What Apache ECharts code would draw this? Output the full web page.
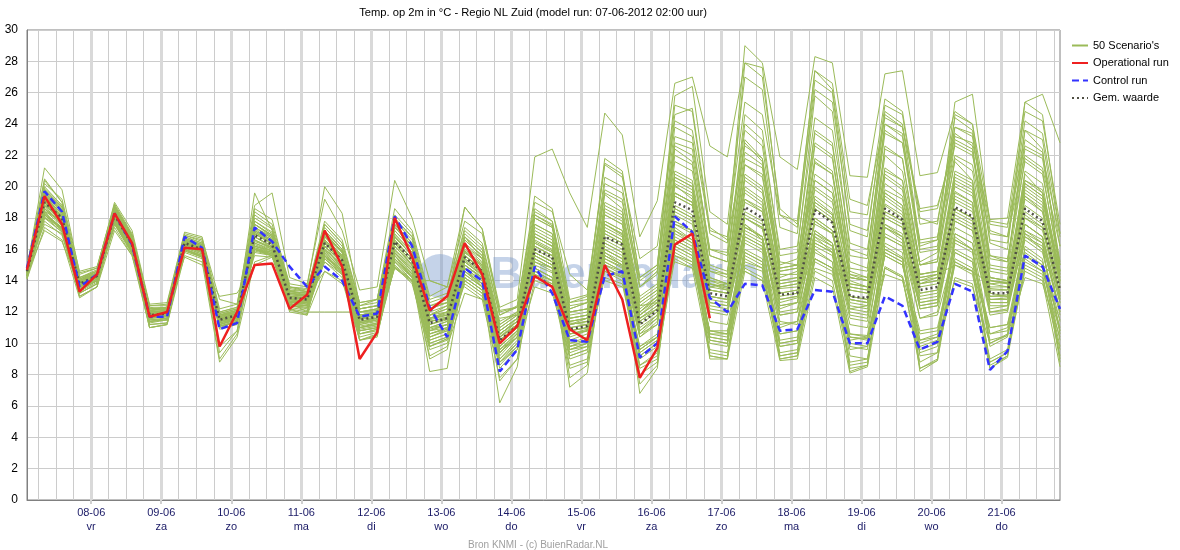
<!DOCTYPE html>
<html><head><meta charset="utf-8">
<script src="https://cdn.jsdelivr.net/npm/echarts@6/dist/echarts.min.js"></script>
<style>html,body{margin:0;padding:0;background:#fff}#c{width:1180px;height:550px}</style>
</head><body><div id="c"></div>
<script>
// time step between forecast points (hours); first point = model run 07-06-2012 02:00
const stepHours = 6;
const dayLabels = ['08-06','09-06','10-06','11-06','12-06','13-06','14-06','15-06','16-06','17-06','18-06','19-06','20-06','21-06'];
const dayNames = ['vr','za','zo','ma','di','wo','do','vr','za','zo','ma','di','wo','do'];

const operational = [14.7, 19.4,17.6,13.3,14.4, 18.3,16.4,11.7,12.0, 16.1,16.0,9.8,12.0, 15.0,15.1,12.2,13.1, 17.2,14.9,9.0,10.7, 18.0,15.5,12.1,13.0, 16.4,14.4,10.0,11.1, 14.3,13.6,10.9,10.2, 15.0,12.8,7.8,9.7, 16.3,17.0,11.6];
const control = [14.8, 19.7,18.4,13.6,14.4, 18.3,16.3,11.7,11.7, 16.8,16.1,10.9,11.3, 17.4,16.5,14.9,13.6, 14.9,14.0,11.7,11.9, 18.1,16.2,12.3,10.4, 14.8,14.0,8.2,9.6, 14.9,13.2,10.2,10.1, 14.3,14.6,9.1,10.0, 18.1,17.1,12.9,12.0, 13.8,13.7,10.8,10.9, 13.4,13.3,10.0,10.0, 13.0,12.4,9.6,10.1, 13.8,13.3,8.3,9.5, 15.6,14.9,12.2];
const meanRun = [14.6, 19.0,18.0,13.8,14.3, 18.2,16.3,11.8,11.9, 16.4,16.0,11.5,11.8, 16.9,16.3,12.9,12.8, 16.4,15.3,11.5,11.7, 16.5,15.3,11.3,11.6, 15.5,14.6,10.2,11.1, 16.0,15.5,10.9,11.1, 16.8,16.3,11.2,12.1, 19.0,18.5,13.2,13.0, 18.7,18.0,13.1,13.2, 18.5,17.7,13.0,12.9, 18.6,17.9,13.4,13.6, 18.7,18.1,13.2,13.2, 18.6,17.8,13.4];

const scenario01 = [14.5, 19.8,18.6,14.0,14.5, 18.5,16.8,12.0,12.1, 16.6,16.2,11.2,11.6, 17.8,17.0,13.4,13.0, 17.1,15.8,11.0,11.2, 17.5,16.0,11.8,12.4, 16.8,15.4,10.5,11.6, 18.2,17.5,12.0,12.2, 19.5,18.6,13.0,13.8, 22.4,21.6,15.0,14.6, 23.0,21.8,14.2,14.6, 21.5,20.8,14.0,13.6, 22.0,21.0,15.2,15.8, 21.6,20.4,14.0,13.8, 20.8,19.6,13.9];
const scenario02 = [14.3, 18.2,17.2,13.5,14.0, 17.8,15.9,11.5,11.6, 16.1,15.7,11.0,11.4, 16.0,15.8,12.4,12.3, 15.5,14.6,11.0,11.3, 15.8,14.6,10.2,10.6, 14.2,13.4,9.0,10.0, 14.6,14.0,9.8,10.2, 14.8,14.3,9.6,10.4, 15.6,15.0,10.8,10.6, 14.8,14.2,10.0,10.2, 15.2,14.6,10.4,10.3, 14.9,14.3,10.6,10.8, 15.2,14.6,11.0,11.2, 15.4,14.6,11.5];
const scenario03 = [14.8, 20.5,19.0,14.2,14.6, 18.8,16.9,12.3,12.2, 16.8,16.4,11.8,12.0, 17.3,16.6,13.2,13.1, 16.8,15.9,12.0,12.0, 16.9,15.8,11.5,11.8, 15.8,14.9,10.6,11.4, 16.5,15.9,11.3,11.2, 17.6,16.9,11.8,12.8, 20.1,19.2,13.8,13.5, 19.6,18.8,13.5,13.6, 19.2,18.3,13.6,13.4, 18.9,18.2,13.8,14.2, 19.7,19.0,13.5,13.4, 19.4,18.4,14.0];
const scenario04 = [14.6, 19.2,18.3,13.9,14.4, 18.6,16.6,12.1,12.3, 16.9,16.5,12.0,12.3, 18.4,17.6,13.8,13.6, 20.0,18.3,12.4,12.6, 17.8,16.6,12.6,13.0, 17.4,16.4,11.8,12.3, 19.4,18.6,12.8,13.1, 21.8,21.0,14.2,15.0, 25.2,24.8,17.0,16.4, 29.0,27.9,21.9,21.1, 28.3,27.9,20.7,20.6, 27.2,27.4,20.7,20.9, 24.8,24.0,17.9,18.0, 25.4,25.9,22.8];
const scenario05 = [14.2, 18.6,17.6,13.2,13.8, 17.9,16.0,11.2,11.3, 16.0,15.5,10.9,11.2, 16.2,15.9,12.2,12.0, 15.8,14.8,10.6,10.8, 15.2,14.2,9.8,10.3, 14.8,13.8,8.8,9.6, 15.2,14.8,9.6,9.8, 16.0,15.4,9.2,10.0, 17.2,16.6,10.4,10.2, 16.8,16.2,10.2,10.4, 17.0,16.2,10.0,9.8, 16.2,15.5,9.6,10.0, 16.4,15.8,10.2,10.5, 17.0,16.0,10.8];
const scenario06 = [14.7, 18.4,17.9,13.7,14.2, 18.0,16.2,11.9,12.0, 16.5,16.1,11.6,11.9, 17.1,16.4,13.0,12.9, 16.2,15.2,11.8,12.0, 16.8,15.6,11.0,11.2, 15.0,14.2,10.0,11.0, 15.6,15.0,10.6,10.9, 16.4,15.8,11.6,12.4, 18.6,18.0,13.0,12.8, 18.0,17.3,12.8,13.0, 18.8,18.0,13.4,13.2, 19.2,18.4,13.8,14.0, 18.2,17.6,12.8,12.9, 18.0,17.2,13.0];
const scenario07 = [14.4, 19.6,18.4,14.1,14.6, 18.3,16.4,11.7,11.8, 16.3,15.9,11.4,11.7, 18.6,17.9,13.6,13.4, 17.8,16.6,12.6,12.8, 18.2,17.0,12.8,13.2, 17.2,16.2,11.8,12.4, 18.6,17.8,12.4,12.6, 20.6,20.0,13.6,14.6, 23.8,23.2,15.6,15.2, 24.6,23.6,15.6,15.8, 25.8,24.8,16.0,15.6, 24.0,23.2,16.2,16.6, 23.4,22.6,15.0,14.8, 23.6,22.4,14.6];
const scenario08 = [14.9, 17.6,17.0,13.4,14.0, 17.6,15.7,11.4,11.5, 16.0,15.6,11.2,11.5, 15.8,15.6,12.6,12.5, 15.2,14.4,10.8,11.0, 14.8,13.9,10.0,10.4, 13.8,13.0,8.6,9.8, 13.6,13.2,9.2,9.6, 14.2,13.8,8.6,9.4, 15.8,15.2,10.0,9.8, 17.6,16.8,11.4,11.2, 16.2,15.6,10.6,10.5, 17.4,16.8,11.6,12.0, 17.8,17.2,12.0,12.1, 17.2,16.6,12.0];
const scenario09 = [14.6, 19.0,17.8,13.8,14.3, 18.1,16.3,11.8,11.9, 16.4,16.0,11.6,11.9, 16.6,16.0,12.8,12.7, 16.0,15.0,11.3,11.6, 16.2,15.0,10.8,11.0, 15.3,14.5,9.8,10.8, 17.0,16.4,11.6,11.8, 18.2,17.6,12.2,13.0, 20.8,20.2,14.2,13.8, 20.4,19.6,14.0,14.2, 18.6,17.8,13.0,12.8, 20.2,19.4,14.4,14.6, 20.0,19.4,14.0,13.9, 19.8,19.0,14.2];
const scenario10 = [14.5, 18.8,18.2,14.0,14.4, 18.0,16.1,11.6,11.8, 16.2,15.8,11.9,12.2, 15.6,15.5,12.6,12.0, 12.0,12.0,12.0,12.1, 16.4,15.0,10.8,11.2, 15.2,14.3,10.4,11.2, 16.2,15.6,11.2,11.4, 17.0,16.4,11.4,12.2, 19.4,18.8,13.4,13.2, 18.4,17.8,12.6,12.9, 17.8,17.0,12.4,12.2, 18.0,17.4,13.0,13.2, 18.4,17.8,13.0,13.1, 18.0,17.4,13.2];
const scenario11 = [14.1, 17.4,16.6,12.9,13.6, 17.2,15.6,11.0,11.2, 15.6,15.2,8.8,10.4, 15.2,15.6,12.2,11.8, 14.6,14.0,10.2,10.6, 14.9,14.0,9.2,9.8, 13.2,12.8,7.8,9.0, 14.0,13.6,8.4,8.8, 14.8,14.2,8.4,9.0, 16.2,15.6,9.6,9.4, 15.0,14.6,9.2,9.4, 14.6,14.0,8.6,8.8, 15.8,15.2,9.4,9.8, 15.0,14.4,9.0,9.6, 15.6,14.8,9.8];
const scenario12 = [14.8, 20.0,18.8,14.4,14.8, 18.9,17.0,12.4,12.4, 16.9,16.6,12.0,12.3, 17.6,16.8,13.3,13.2, 16.6,15.6,11.6,11.8, 16.6,15.4,11.4,11.6, 15.6,14.7,10.4,11.2, 15.4,14.8,10.2,10.6, 15.6,15.0,10.4,11.2, 17.6,17.2,12.4,12.2, 17.2,16.6,12.0,12.2, 18.0,17.2,12.8,12.6, 17.6,16.8,12.6,12.8, 18.0,17.4,12.6,12.6, 17.6,16.8,12.6];
const scenario13 = [14.6, 19.4,18.2,13.9,14.4, 18.4,16.5,12.0,12.1, 16.7,16.3,11.7,12.0, 19.6,17.2,13.6,13.3, 17.6,16.4,12.4,12.8, 18.6,17.2,13.0,13.6, 18.7,17.3,12.3,12.8, 21.9,22.4,19.6,17.4, 24.7,23.3,16.8,19.1, 26.6,27.0,22.6,21.9, 27.9,27.0,18.6,17.6, 27.4,26.2,18.4,18.2, 25.6,24.8,18.0,17.6, 24.4,23.6,17.2,16.8, 24.2,23.4,17.0];
const scenario14 = [14.4, 18.0,17.4,13.6,14.1, 18.0,16.0,11.6,11.8, 16.2,15.8,11.3,11.6, 16.4,15.9,12.6,12.6, 16.8,15.6,11.6,11.6, 16.0,14.9,10.9,11.2, 15.0,14.1,9.4,10.6, 15.8,15.2,10.8,11.0, 16.2,15.6,10.8,11.6, 18.2,17.6,12.6,12.4, 17.4,16.8,12.2,12.6, 17.2,16.4,12.2,12.4, 17.0,16.4,12.4,12.6, 18.6,18.0,13.2,13.0, 18.2,17.4,12.8];
const scenario15 = [14.2, 19.2,18.0,13.0,13.6, 18.4,16.2,11.0,11.2, 16.6,16.0,9.4,10.8, 16.8,16.1,12.0,11.8, 16.2,14.8,10.2,10.4, 15.6,14.2,8.2,8.4, 14.8,13.6,6.2,8.5, 15.6,15.0,7.2,8.1, 15.8,15.0,6.8,8.4, 17.4,16.6,9.2,9.0, 17.6,16.6,9.0,9.2, 16.8,15.8,8.2,8.6, 17.4,16.6,8.4,9.0, 16.8,16.0,8.6,9.2, 17.2,16.4,9.0];
const scenario16 = [14.7, 19.6,18.5,14.0,14.5, 18.7,16.7,12.2,12.3, 16.7,16.3,11.8,12.1, 17.2,16.5,13.1,13.0, 16.6,15.5,11.7,11.9, 17.2,16.0,11.6,12.0, 16.2,15.2,10.8,11.6, 16.8,16.2,11.6,11.8, 17.8,17.2,12.0,13.0, 20.2,19.6,14.0,13.8, 19.8,19.0,13.8,14.0, 20.4,19.6,14.2,14.0, 19.6,18.8,14.0,14.4, 20.8,20.2,14.2,14.0, 20.2,19.4,14.4];
const scenario17 = [14.5, 18.6,17.6,13.6,14.2, 17.9,16.0,11.6,11.7, 16.2,15.8,11.4,11.6, 16.4,16.0,12.7,12.6, 16.0,15.0,11.2,11.4, 15.8,14.6,10.6,10.9, 14.6,13.8,9.6,10.4, 14.8,14.2,9.8,10.0, 15.0,14.4,9.0,9.8, 16.4,15.8,10.2,10.0, 15.4,14.8,9.4,9.6, 15.8,15.2,9.2,9.0, 14.8,14.2,8.8,9.4, 14.2,13.8,8.4,9.1, 14.8,14.2,9.6];
const scenario18 = [14.6, 19.0,18.1,13.9,14.4, 18.2,16.3,11.9,12.0, 16.5,16.1,11.6,11.9, 17.4,16.8,13.2,13.0, 17.0,15.8,11.8,12.0, 17.4,16.2,11.8,12.2, 16.6,15.6,10.8,11.6, 17.6,17.0,11.8,12.0, 19.0,18.4,12.6,13.4, 22.0,21.4,14.6,14.4, 22.8,21.6,14.8,15.0, 23.6,22.8,15.2,14.8, 23.4,22.8,15.8,16.0, 23.8,23.4,15.6,15.2, 23.0,22.2,15.0];
const scenario19 = [14.3, 18.4,17.2,13.4,14.0, 17.7,15.8,11.4,11.6, 16.0,15.6,11.1,11.4, 16.0,15.7,12.5,12.4, 15.6,14.6,10.9,11.1, 15.6,14.4,10.4,10.8, 14.6,13.8,9.2,10.4, 15.0,14.5,10.0,10.4, 15.4,14.9,9.8,10.6, 17.0,16.4,11.4,11.2, 16.6,16.0,11.0,11.4, 16.4,15.8,11.2,11.0, 16.8,16.2,11.6,11.8, 16.0,15.4,11.0,11.2, 16.6,15.8,11.4];
const scenario20 = [14.9, 20.2,19.2,14.6,14.9, 18.8,16.9,12.4,12.5, 17.0,16.7,12.8,12.5, 18.8,19.6,14.2,13.8, 19.2,17.2,13.4,13.6, 20.4,18.0,14.0,13.6, 17.8,17.0,12.0,12.3, 19.0,18.4,14.4,13.4, 21.4,20.6,15.4,16.2, 24.2,23.6,17.2,16.8, 25.4,24.6,18.2,17.4, 26.2,25.4,17.6,17.2, 24.6,23.8,18.4,18.6, 23.2,22.8,17.8,17.6, 22.6,22.0,16.8];
const scenario21 = [14.4, 18.2,17.4,13.6,14.1, 18.1,16.1,11.7,11.8, 16.3,15.9,11.4,11.7, 16.5,16.1,12.8,12.6, 16.4,15.2,11.4,11.6, 16.2,15.0,11.0,11.4, 15.2,14.4,10.0,11.0, 15.6,15.0,10.4,10.8, 16.6,16.0,10.8,11.8, 18.8,18.2,12.8,12.6, 18.2,17.6,12.4,12.6, 19.0,18.2,12.8,12.6, 19.6,18.8,13.2,13.4, 19.4,18.8,12.8,12.8, 19.2,18.4,13.0];
const scenario22 = [14.6, 18.8,17.9,13.7,14.2, 18.0,16.1,11.6,11.7, 16.2,15.8,11.3,11.6, 16.3,15.9,12.7,12.5, 15.9,14.9,11.1,11.3, 15.9,14.7,10.4,10.8, 15.0,14.2,9.6,10.7, 15.4,14.8,10.0,10.2, 15.8,15.2,9.4,10.2, 17.8,17.2,10.6,10.4, 16.8,16.2,9.8,10.0, 16.6,16.0,9.6,9.8, 16.0,15.4,9.8,10.2, 16.6,16.0,9.8,10.4, 15.8,15.0,10.2];
const scenario23 = [14.8, 19.8,18.7,14.2,14.6, 18.6,16.7,12.1,12.2, 16.6,16.2,11.7,12.0, 17.6,16.9,13.3,13.2, 16.9,15.8,12.0,12.2, 17.0,15.8,11.8,12.0, 16.0,15.1,10.8,11.6, 17.2,16.6,11.4,11.6, 18.4,17.8,12.4,13.2, 21.0,20.4,14.6,14.2, 21.4,20.6,14.6,14.8, 20.8,20.0,14.4,14.0, 21.2,20.4,15.0,15.2, 21.8,21.0,14.6,14.4, 20.4,19.8,14.6];
const scenario24 = [14.3, 18.5,17.5,13.5,14.0, 18.2,16.2,11.8,11.9, 16.4,16.0,11.5,11.8, 16.8,16.2,12.8,12.7, 16.2,15.1,11.3,11.5, 16.4,15.2,11.2,11.6, 15.4,14.6,10.2,11.0, 15.8,15.2,10.8,11.0, 16.8,16.2,11.2,12.0, 18.4,17.8,13.0,12.8, 18.0,17.4,13.0,13.2, 17.6,17.0,12.8,12.6, 18.2,17.6,13.2,13.4, 18.6,18.0,13.0,13.0, 18.4,17.6,13.2];
const scenario25 = [14.6, 19.3,18.1,13.8,14.4, 18.4,16.4,11.8,11.9, 16.4,16.0,11.5,11.8, 17.0,16.4,12.9,12.8, 16.6,15.4,11.6,11.8, 17.8,16.8,12.4,12.6, 18.7,17.3,12.1,12.3, 17.4,16.8,11.2,11.4, 18.6,18.0,12.6,13.4, 20.6,20.0,13.8,13.4, 21.4,20.8,14.4,14.4, 22.6,21.8,14.6,14.2, 21.0,20.4,14.2,14.4, 20.4,19.8,13.8,13.6, 21.0,20.2,14.0];
const scenario26 = [14.5, 18.9,17.8,13.8,14.2, 18.1,16.2,11.8,11.9, 16.4,16.0,11.6,11.9, 16.2,15.9,12.7,12.6, 15.8,14.8,11.2,11.5, 15.6,14.5,10.6,11.0, 14.8,14.0,9.6,10.6, 16.0,15.4,10.6,10.8, 16.0,15.4,10.6,11.2, 17.6,17.0,12.2,12.0, 17.0,16.4,11.8,12.0, 16.8,16.2,12.0,11.8, 17.4,16.8,12.4,12.6, 17.0,16.4,12.2,12.4, 16.8,16.2,12.2];
const scenario27 = [14.7, 19.4,18.4,14.0,14.5, 18.5,16.6,12.1,12.2, 16.6,16.2,11.8,12.1, 17.4,16.7,13.2,13.1, 17.2,16.0,12.2,12.4, 17.6,16.4,12.0,12.4, 16.8,15.8,11.0,11.8, 18.0,17.4,12.2,12.6, 20.2,19.6,14.0,14.8, 25.8,26.4,18.4,17.6, 27.0,26.2,17.4,17.0, 26.8,26.0,17.2,16.8, 25.2,24.6,17.6,17.8, 23.8,23.2,16.6,16.4, 23.6,23.0,16.2];
const scenario28 = [14.2, 17.8,16.9,13.2,13.8, 17.6,15.8,11.3,11.5, 15.9,15.5,11.1,11.3, 16.0,15.6,12.4,12.2, 15.4,14.4,10.6,10.9, 15.0,14.0,9.8,10.2, 14.0,13.2,8.8,9.8, 14.4,13.8,9.0,9.4, 14.6,14.0,8.6,9.2, 15.4,14.8,9.2,9.0, 14.6,14.0,8.9,9.0, 14.2,13.6,8.1,8.5, 14.8,14.2,8.4,8.9, 15.2,14.6,8.8,9.4, 14.6,14.0,8.5];
const scenario29 = [14.6, 19.2,18.0,13.8,14.3, 18.3,16.4,11.8,12.0, 16.5,16.1,11.5,11.8, 17.0,16.4,12.9,12.8, 16.4,15.3,11.5,11.7, 16.6,15.4,11.2,11.6, 15.6,14.8,10.2,11.2, 16.2,15.6,11.0,11.2, 17.0,16.4,11.4,12.2, 19.4,18.8,13.4,13.2, 19.0,18.4,13.2,13.4, 18.6,17.8,13.0,12.8, 18.8,18.0,13.6,13.8, 19.2,18.6,13.4,13.4, 18.8,18.0,13.6];
const scenario30 = [14.8, 21.2,19.8,14.5,14.8, 19.0,17.2,12.5,12.6, 17.1,16.8,12.2,12.5, 18.2,17.4,13.6,13.5, 17.2,16.0,12.0,12.2, 17.6,16.2,11.6,12.0, 16.4,15.4,10.4,11.4, 17.0,16.4,11.2,11.6, 18.2,17.6,12.0,13.0, 21.6,21.0,14.8,14.4, 22.2,21.4,14.6,14.8, 21.8,21.0,14.2,14.0, 22.4,21.8,15.0,15.2, 22.8,22.2,14.8,14.6, 21.8,21.0,14.6];
const scenario31 = [14.4, 17.2,16.5,13.6,14.0, 17.4,15.6,11.9,12.0, 15.5,15.0,13.0,13.2, 15.0,15.5,13.2,13.0, 14.6,13.8,12.2,12.4, 14.8,14.0,14.0,13.6, 13.6,12.8,11.6,11.8, 14.2,13.8,12.0,12.2, 14.0,13.6,12.4,12.6, 15.2,14.8,13.6,13.8, 14.6,14.0,13.2,13.4, 15.4,14.8,13.8,13.6, 16.0,15.4,14.2,14.4, 15.0,14.6,13.8,13.9, 15.6,15.0,14.0];
const scenario32 = [14.5, 19.0,17.9,13.7,14.3, 18.2,16.3,11.9,12.0, 16.4,16.0,11.5,11.8, 16.8,16.2,12.8,12.7, 16.4,15.4,11.4,11.6, 16.4,15.2,11.2,11.5, 15.6,14.6,10.2,11.0, 16.4,15.8,10.8,11.0, 17.2,16.6,11.0,11.8, 19.6,19.0,13.0,12.8, 19.2,18.6,12.8,13.0, 19.4,18.6,12.6,12.4, 18.4,17.8,12.8,13.0, 19.6,19.0,12.6,12.6, 19.6,18.8,12.8];
const scenario33 = [14.6, 19.1,18.0,13.8,14.3, 18.2,16.3,11.8,11.9, 16.4,16.0,11.4,11.7, 17.0,16.3,12.9,12.9, 16.5,15.4,11.6,11.8, 16.5,15.4,11.4,11.6, 15.4,14.6,10.4,11.2, 16.2,15.6,11.0,11.2, 17.4,16.8,11.6,12.4, 19.6,19.0,13.4,13.2, 20.6,19.8,13.8,14.0, 21.6,20.8,14.2,14.0, 22.6,21.8,15.0,15.4, 24.6,24.0,16.4,16.0, 25.4,24.6,17.0];
const scenario34 = [14.3, 18.3,17.3,13.4,14.0, 17.8,15.9,11.5,11.6, 16.0,15.6,11.2,11.5, 16.2,15.8,12.5,12.4, 15.7,14.7,11.0,11.2, 15.4,14.3,10.2,10.6, 14.4,13.6,9.4,10.4, 14.4,14.0,9.6,10.0, 14.6,14.2,9.8,10.4, 15.6,15.2,10.8,10.8, 15.2,14.8,10.6,10.8, 14.8,14.4,10.2,10.4, 14.4,14.0,10.0,10.4, 14.0,13.6,10.0,10.5, 14.2,13.8,10.4];
const scenario35 = [14.6, 19.0,18.0,13.8,14.4, 18.3,16.4,11.9,12.0, 16.5,16.1,11.6,11.9, 17.2,16.5,13.0,12.9, 16.6,15.5,11.6,11.8, 16.8,15.6,11.4,11.7, 15.8,14.9,10.4,11.2, 16.4,15.8,11.2,11.4, 17.2,16.6,11.6,12.2, 19.6,19.0,13.6,13.4, 19.2,18.4,13.6,13.8, 19.0,18.2,13.4,13.2, 19.4,18.6,13.8,14.0, 19.0,18.4,13.6,13.6, 19.4,18.6,13.8];
const scenario36 = [14.9, 20.4,19.0,14.2,14.7, 18.7,16.8,12.2,12.3, 16.8,16.4,11.9,12.2, 17.8,17.1,13.4,13.3, 17.4,16.2,12.2,12.4, 17.4,16.2,12.2,12.6, 16.6,15.6,11.2,11.9, 17.6,17.0,12.0,12.2, 18.8,18.2,12.8,13.6, 22.6,22.0,15.6,15.2, 23.6,22.6,15.0,15.4, 22.8,22.0,14.8,14.6, 24.0,23.4,16.0,16.2, 23.0,22.4,15.4,15.2, 22.4,21.8,15.2];
const scenario37 = [14.2, 18.1,17.1,13.2,13.8, 17.7,15.8,11.2,11.3, 15.8,15.4,9.8,10.8, 15.9,15.6,12.3,12.1, 15.2,14.2,10.4,10.7, 14.9,13.8,9.6,10.0, 14.0,13.2,8.4,9.6, 14.6,14.0,8.6,9.0, 15.2,14.6,8.0,8.8, 16.0,15.4,9.4,9.2, 15.6,15.0,9.0,9.2, 15.4,14.8,8.8,9.0, 15.8,15.2,9.2,9.4, 15.4,14.8,8.8,9.4, 15.0,14.4,9.2];
const scenario38 = [14.7, 19.5,18.4,14.0,14.5, 18.6,16.6,12.0,12.1, 16.6,16.2,11.7,12.0, 17.4,16.7,13.1,13.0, 16.9,15.8,11.8,12.0, 16.8,15.6,11.6,11.9, 15.9,15.0,10.6,11.4, 16.8,16.2,11.4,11.6, 17.6,17.0,11.8,12.6, 20.4,19.8,14.0,13.6, 20.0,19.2,13.6,13.8, 19.8,19.0,13.8,13.6, 20.6,19.8,14.4,14.6, 20.2,19.6,14.2,14.0, 20.0,19.2,14.2];
const scenario39 = [14.4, 18.7,17.7,13.6,14.1, 18.0,16.1,11.7,11.8, 16.2,15.8,11.3,11.6, 16.1,15.8,12.6,12.5, 15.4,14.5,10.8,11.0, 15.3,14.2,10.0,10.4, 14.2,13.4,9.0,10.2, 14.8,14.2,9.4,9.8, 15.0,14.6,9.4,10.2, 16.8,16.2,10.6,10.6, 17.4,16.8,11.2,11.4, 18.0,17.2,11.8,11.6, 18.4,17.8,12.2,12.4, 18.6,18.0,12.0,12.2, 17.6,16.8,12.0];
const scenario40 = [14.6, 19.7,18.6,14.1,14.5, 18.6,16.7,12.1,12.2, 16.7,16.3,11.8,12.1, 18.0,17.3,13.5,13.3, 17.6,16.4,12.6,12.8, 18.0,16.8,12.4,12.8, 17.0,16.0,11.4,12.0, 18.2,17.6,12.6,12.8, 19.8,19.2,13.6,14.4, 23.2,22.8,16.0,15.6, 24.0,23.0,16.0,16.2, 24.4,23.6,16.4,16.0, 23.6,22.8,16.6,16.8, 22.0,21.4,15.6,15.4, 21.6,20.8,15.0];
const scenario41 = [14.1, 18.4,17.2,13.0,13.6, 17.8,15.8,11.0,11.2, 16.0,15.5,9.0,10.6, 16.0,15.6,12.1,11.9, 15.6,14.5,10.2,10.5, 15.4,14.2,9.0,9.6, 14.6,13.6,7.6,9.0, 15.4,14.8,7.8,8.6, 15.6,15.0,7.4,8.6, 17.2,16.4,9.0,9.0, 16.4,15.8,9.2,9.4, 16.0,15.2,8.4,8.6, 16.4,15.8,8.2,8.9, 15.8,15.2,8.4,9.2, 16.2,15.4,8.8];
const scenario42 = [14.5, 18.6,17.7,13.7,14.2, 18.1,16.2,11.8,11.9, 16.3,15.9,11.5,11.8, 16.6,16.1,12.8,12.7, 16.2,15.2,11.4,11.6, 16.2,15.0,11.0,11.4, 15.2,14.4,9.8,10.8, 15.8,15.2,10.6,10.8, 16.4,15.8,10.6,11.6, 18.6,18.0,12.6,12.4, 18.0,17.4,12.4,12.6, 17.8,17.0,12.2,12.0, 18.0,17.4,12.6,12.8, 17.8,17.2,12.4,12.4, 17.6,16.8,12.6];
const scenario43 = [14.7, 19.9,18.8,14.1,14.6, 18.7,16.8,12.2,12.3, 16.7,16.3,11.7,12.0, 17.6,16.9,13.3,13.2, 17.0,15.9,12.0,12.2, 17.2,16.0,11.8,12.2, 16.2,15.4,11.0,11.8, 18.4,17.8,12.6,13.0, 21.5,20.8,14.2,15.0, 24.6,25.0,17.4,16.6, 22.6,21.8,15.2,15.0, 20.4,19.6,14.4,14.2, 19.8,19.2,14.0,14.2, 20.6,20.0,14.0,13.8, 20.2,19.4,14.0];
const scenario44 = [14.3, 18.2,17.3,13.3,13.9, 17.9,15.9,11.4,11.5, 16.0,15.6,11.1,11.4, 16.1,15.7,12.4,12.3, 15.6,14.6,10.8,11.0, 15.7,14.6,10.6,11.0, 14.8,14.0,9.4,10.4, 15.2,14.6,9.8,10.2, 15.6,15.0,9.6,10.4, 16.6,16.0,10.4,10.2, 15.8,15.2,10.0,10.2, 17.2,16.4,10.6,10.4, 15.6,15.0,10.2,10.6, 17.0,16.4,10.6,11.0, 16.0,15.2,11.0];
const scenario45 = [14.6, 19.3,18.3,13.9,14.4, 18.4,16.5,12.0,12.1, 16.6,16.2,11.7,12.0, 17.1,16.5,13.0,12.9, 16.6,15.6,11.7,11.9, 16.8,15.6,11.6,11.8, 15.9,15.0,10.6,11.4, 16.6,16.0,11.4,11.6, 17.6,17.0,11.8,12.6, 20.0,19.4,13.8,13.6, 20.8,20.0,14.0,14.2, 20.0,19.2,13.6,13.4, 20.8,20.0,14.4,14.6, 21.0,20.4,14.2,14.0, 20.4,19.6,14.4];
const scenario46 = [14.4, 18.0,17.1,13.5,14.0, 17.7,15.9,11.6,11.7, 15.9,15.5,11.2,11.5, 16.0,15.7,12.5,12.4, 15.6,14.7,11.0,11.2, 15.4,14.4,10.4,10.9, 14.4,13.6,9.4,10.4, 14.8,14.2,9.6,10.0, 15.2,14.6,9.6,10.4, 16.2,15.6,10.8,10.6, 15.8,15.2,10.6,10.8, 15.4,14.8,10.4,10.2, 15.6,15.0,10.8,11.0, 15.8,15.2,10.6,10.8, 15.2,14.6,10.8];
const scenario47 = [14.7, 19.6,18.5,14.0,14.5, 18.5,16.6,12.1,12.2, 16.6,16.2,11.8,12.1, 17.6,16.9,13.3,13.2, 17.2,16.0,12.2,12.4, 17.6,16.4,12.2,12.6, 16.8,15.8,11.2,12.0, 18.0,17.4,12.2,12.6, 19.6,19.0,13.6,14.6, 22.8,22.4,16.0,15.8, 27.9,27.6,18.2,17.8, 27.4,26.6,19.2,18.8, 24.4,23.8,18.6,18.8, 22.6,22.0,17.0,16.8, 22.0,21.2,16.2];
const scenario48 = [14.5, 18.8,17.8,13.7,14.2, 18.1,16.2,11.7,11.8, 16.3,15.9,11.4,11.7, 16.6,16.1,12.8,12.6, 16.0,15.0,11.3,11.5, 16.0,14.8,10.8,11.2, 15.0,14.2,9.8,10.8, 15.8,15.2,10.6,10.8, 16.0,15.4,10.4,11.4, 17.8,17.2,12.0,11.8, 17.4,16.8,11.8,12.0, 17.0,16.4,11.6,11.4, 17.6,17.0,12.2,12.4, 17.4,16.8,11.8,12.0, 17.0,16.4,11.8];
const scenario49 = [14.6, 19.1,18.1,13.8,14.3, 18.3,16.4,11.9,12.0, 16.5,16.1,11.6,11.9, 17.2,16.6,13.0,12.9, 16.8,15.6,11.8,12.0, 16.8,15.6,11.6,11.8, 15.8,15.0,10.6,11.4, 16.8,16.2,11.6,11.8, 17.8,17.2,12.0,12.8, 20.6,20.0,14.2,13.8, 21.8,21.2,14.8,15.0, 23.4,22.6,15.6,15.4, 24.8,24.0,16.4,16.6, 25.4,25.9,17.6,17.4, 24.8,24.2,17.6];
const scenario50 = [14.3, 18.3,17.4,13.4,14.0, 17.8,15.9,11.4,11.5, 16.1,15.7,11.1,11.4, 16.0,15.6,12.5,12.4, 15.4,14.4,10.6,10.9, 15.2,14.0,9.8,10.3, 14.2,13.4,8.8,10.0, 14.6,14.0,9.2,9.6, 15.4,14.8,9.2,10.0, 16.6,16.0,10.2,10.0, 16.0,15.4,9.8,10.0, 16.4,15.8,9.8,9.6, 16.8,16.2,10.2,10.4, 16.6,16.0,10.0,10.6, 16.8,16.0,10.6];

const scenarios = [scenario01,scenario02,scenario03,scenario04,scenario05,scenario06,scenario07,scenario08,scenario09,scenario10,
  scenario11,scenario12,scenario13,scenario14,scenario15,scenario16,scenario17,scenario18,scenario19,scenario20,
  scenario21,scenario22,scenario23,scenario24,scenario25,scenario26,scenario27,scenario28,scenario29,scenario30,
  scenario31,scenario32,scenario33,scenario34,scenario35,scenario36,scenario37,scenario38,scenario39,scenario40,
  scenario41,scenario42,scenario43,scenario44,scenario45,scenario46,scenario47,scenario48,scenario49,scenario50];

const lastHour = (control.length - 1) * stepHours;
const hourCats = [];
for (let h = 0; h <= lastHour; h++) hourCats.push(String(h));
const isDay = i => i % 24 === 22;           // midnight lines (first point is 02:00)
const isSix = i => i % 6 === 4 && !isDay(i); // 06:00, 12:00, 18:00 lines
const toPairs = arr => arr.map((v, i) => [i * stepHours, v]);
const FONT = 'Liberation Sans, Arial, sans-serif';

const series = [];
scenarios.forEach(s => series.push({
  name: "50 Scenario's", type: 'line', xAxisIndex: 2, data: toPairs(s), symbol: 'none', silent: true,
  lineStyle: { color: '#9bbb59', width: 1 }, itemStyle: { color: '#9bbb59' }, z: 2
}));
series.push({ name: 'Gem. waarde', type: 'line', xAxisIndex: 2, data: toPairs(meanRun), symbol: 'none',
  lineStyle: { color: '#4f4f44', width: 2.5, type: [2, 3] }, itemStyle: { color: '#4f4f44' }, z: 3 });
series.push({ name: 'Control run', type: 'line', xAxisIndex: 2, data: toPairs(control), symbol: 'none',
  lineStyle: { color: '#3333ff', width: 2.5, type: [7, 4] }, itemStyle: { color: '#3333ff' }, z: 4 });
series.push({ name: 'Operational run', type: 'line', xAxisIndex: 2, data: toPairs(operational), symbol: 'none',
  lineStyle: { color: '#ee2020', width: 2.5 }, itemStyle: { color: '#ee2020' }, z: 5 });

const chart = echarts.init(document.getElementById('c'));
chart.setOption({
  animation: false,
  backgroundColor: '#ffffff',
  grid: { left: 27, right: 120, top: 30, bottom: 50, show: true, borderColor: '#808080', borderWidth: 1 },
  xAxis: [
    { type: 'category', data: hourCats, boundaryGap: false, position: 'bottom',
      axisLine: { show: true, lineStyle: { color: '#808080' } },
      axisTick: { show: true, interval: isDay, length: 4, lineStyle: { color: '#d0d0d0', width: 2 } },
      axisLabel: { interval: isDay, color: '#1a1a66', fontSize: 11, lineHeight: 14, margin: 6, fontFamily: FONT,
        formatter: (v) => { const k = (Number(v) - 22) / 24; return dayLabels[k] + '\n' + dayNames[k]; } },
      splitLine: { show: true, interval: isDay, lineStyle: { color: '#d9d9d9', width: 3 } } },
    { type: 'category', data: hourCats, boundaryGap: false, position: 'bottom',
      axisLine: { show: false }, axisTick: { show: false }, axisLabel: { show: false },
      splitLine: { show: true, interval: isSix, lineStyle: { color: '#cccccc', width: 1 } } },
    { type: 'value', min: 0, max: lastHour, show: false, splitLine: { show: false } }
  ],
  yAxis: { type: 'value', min: 0, max: 30, interval: 2,
    axisLine: { show: true, lineStyle: { color: '#808080' } }, axisTick: { show: false },
    axisLabel: { color: '#000', fontSize: 12, margin: 9, fontFamily: FONT },
    splitLine: { show: true, lineStyle: { color: '#cccccc', width: 1 } } },
  legend: { orient: 'vertical', left: 1066, top: 35, itemWidth: 16, itemHeight: 10, itemGap: 6.5,
    itemStyle: { opacity: 0 },
    textStyle: { fontSize: 11, color: '#000', fontFamily: FONT },
    data: ["50 Scenario's", 'Operational run', 'Control run', 'Gem. waarde'] },
  graphic: [
    { type: 'text', x: 533, y: 13, style: { text: 'Temp. op 2m in °C - Regio NL Zuid (model run: 07-06-2012 02:00 uur)',
      fill: '#000', font: '11.2px ' + FONT, textAlign: 'center', textVerticalAlign: 'middle' } },
    { type: 'text', x: 538, y: 545, style: { text: 'Bron KNMI - (c) BuienRadar.NL', fill: '#a0a0a0',
      font: '10px ' + FONT, textAlign: 'center', textVerticalAlign: 'middle' } },
    { type: 'circle', z: 1, shape: { cx: 440, cy: 276, r: 22 }, style: { fill: 'rgba(110,145,200,0.4)' } },
    { type: 'text', x: 631, y: 276, z: 1, style: { text: 'Buienradar.nl', fill: 'rgba(110,145,200,0.4)',
      font: 'bold 44px ' + FONT, textAlign: 'center', textVerticalAlign: 'middle' } }
  ],
  series: series
});
</script></body></html>
